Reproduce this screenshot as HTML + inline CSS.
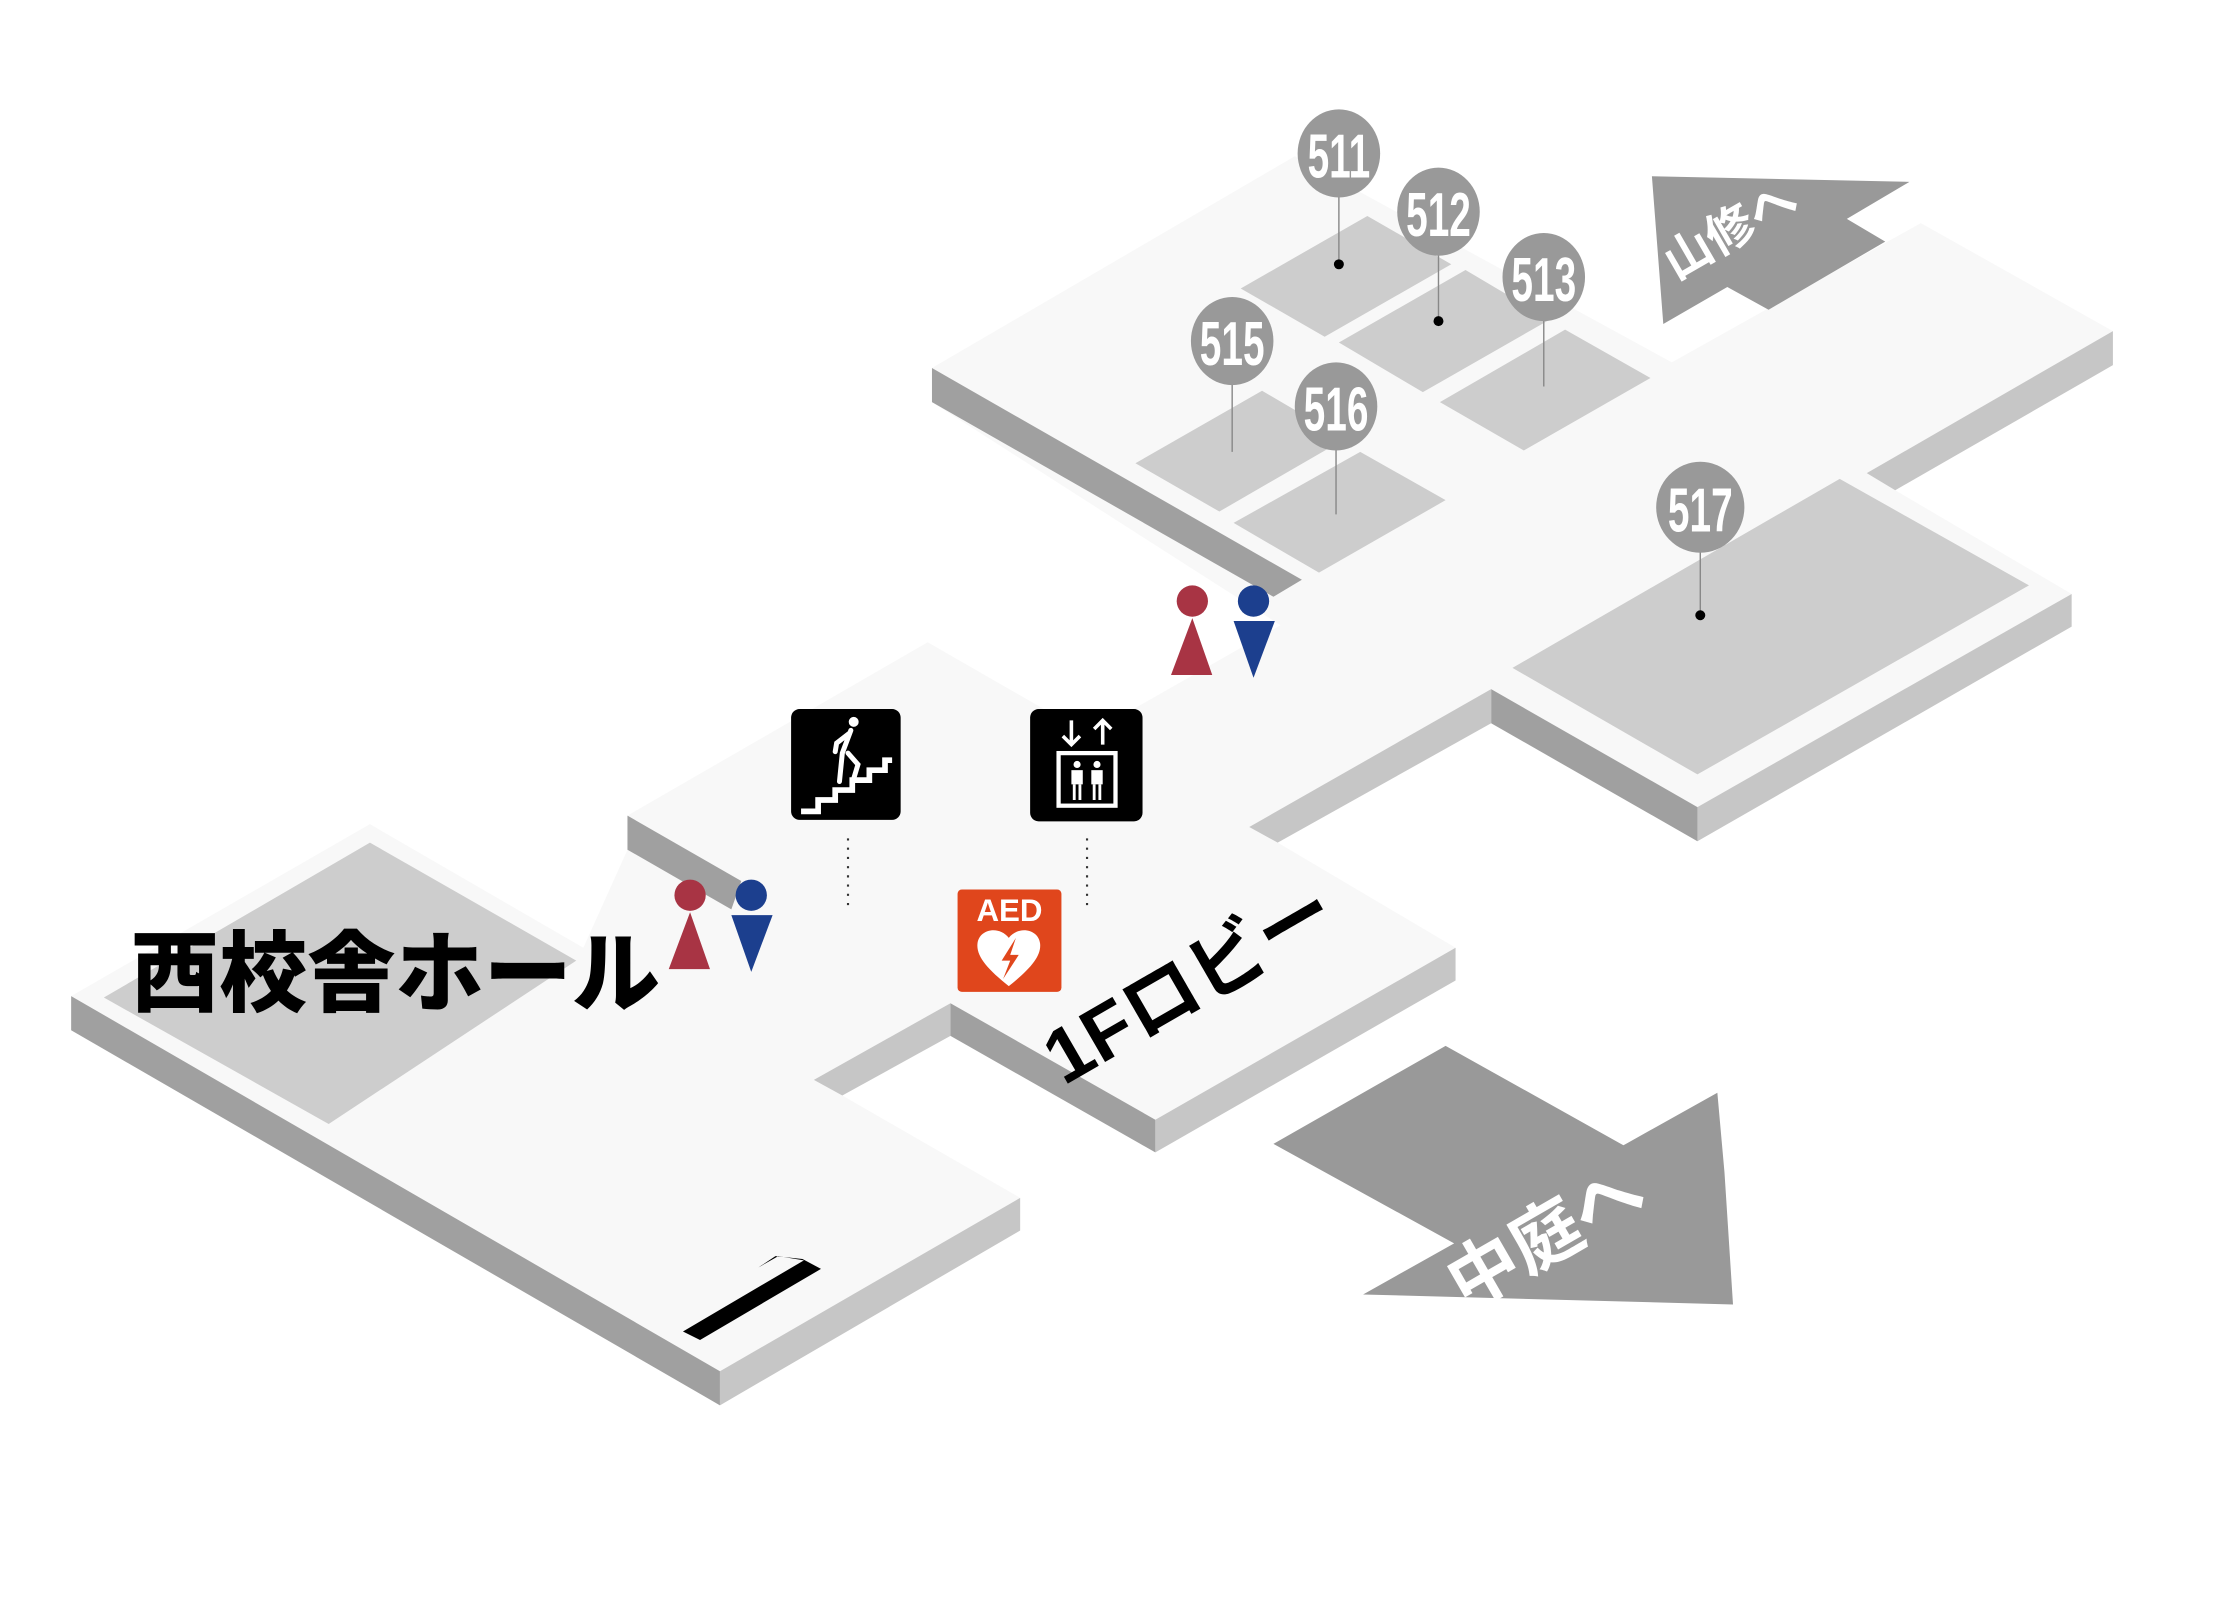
<!DOCTYPE html>
<html><head><meta charset="utf-8"><style>html,body{margin:0;padding:0;background:#fff;width:2231px;height:1600px;overflow:hidden;}svg{display:block}</style></head>
<body>
<svg width="2231" height="1600" viewBox="0 0 1568 1126" preserveAspectRatio="none" xmlns="http://www.w3.org/2000/svg">
<rect width="1568" height="1126" fill="#fff"/>
<!-- floor -->
<polygon fill="#f8f8f8" points="50,701 260,580 410,667 441,598 441,574 652,452 765,517 900,440 655,283 655,259 910,110 1175,255 1350,157 1485,233 1312,333 1332,345 1456,418 1193,568 1048,485 878,582 898,593 1023,667 812,788 668,706 572,760 592,771 717,843 506,965"/>
<!-- side faces -->
<polygon fill="#a0a0a0" points="655,259 915,408 895,420 655,283"/>
<polygon fill="#c6c6c6" points="1485,233 1485,257 1332,345 1312,333"/>
<polygon fill="#c6c6c6" points="1456,418 1456,441 1193,592 1193,568"/>
<polygon fill="#a0a0a0" points="1048,485 1193,568 1193,592 1048,509"/>
<polygon fill="#c6c6c6" points="878,582 1048,485 1048,509 898,593"/>
<polygon fill="#c6c6c6" points="1023,667 1023,690 812,811 812,788"/>
<polygon fill="#a0a0a0" points="668,706 812,788 812,811 668,729"/>
<polygon fill="#c6c6c6" points="572,760 668,706 668,729 592,771"/>
<polygon fill="#c6c6c6" points="717,843 717,866 506,989 506,965"/>
<polygon fill="#a0a0a0" points="50,701 506,965 506,989 50,725"/>
<polygon fill="#a0a0a0" points="441,574 521,620 514,640 441,598"/>
<!-- rooms -->
<polygon fill="#cdcdcd" points="73,702 260,593 405,676 231,791"/>
<polygon fill="#cdcdcd" points="872,203 961,152 1020,186 931,237"/>
<polygon fill="#cdcdcd" points="941,241 1030,190 1089,225 1000,276"/>
<polygon fill="#cdcdcd" points="1012,283 1100,232 1160,266 1071,317"/>
<polygon fill="#cdcdcd" points="798,326 887,275 945,309 857,360"/>
<polygon fill="#cdcdcd" points="867,368 956,318 1016,352 927,403"/>
<polygon fill="#cdcdcd" points="1063,470 1293,337 1426,412 1193,545"/>
<!-- arrows -->
<polygon fill="#999" points="1161,124 1342,128 1298,154 1325,170 1243,218 1214,202 1169,228"/>
<text x="1222" y="172" transform="rotate(-30 1222 172)" font-family="'Liberation Sans','Noto Sans CJK JP',sans-serif" font-weight="bold" font-size="34" fill="#fff" text-anchor="middle">山修へ</text>
<polygon fill="#999" points="1016,736 1141,806 1207,769 1212,825 1218,918 958,911 1022,875 895,805"/>
<text x="1095" y="885" transform="rotate(-30 1095 885)" font-family="'Liberation Sans','Noto Sans CJK JP',sans-serif" font-weight="bold" font-size="50" fill="#fff" text-anchor="middle">中庭へ</text>
<!-- pins -->
<g stroke="#888" stroke-width="1">
<line x1="941" y1="130" x2="941" y2="186"/><line x1="1011" y1="170" x2="1011" y2="226"/>
<line x1="1085" y1="218" x2="1085" y2="272"/><line x1="866" y1="262" x2="866" y2="318"/>
<line x1="939" y1="308" x2="939" y2="362"/><line x1="1195" y1="380" x2="1195" y2="433"/>
</g>
<g fill="#000"><circle cx="941" cy="186" r="3.5"/><circle cx="1011" cy="226" r="3.5"/><circle cx="1195" cy="433" r="3.5"/></g>
<g fill="#999">
<ellipse cx="941" cy="108" rx="29" ry="31"/><ellipse cx="1011" cy="149" rx="29" ry="31"/>
<ellipse cx="1085" cy="195" rx="29" ry="31"/><ellipse cx="866" cy="240" rx="29" ry="31"/>
<ellipse cx="939" cy="286" rx="29" ry="31"/><ellipse cx="1195" cy="357" rx="31" ry="32"/>
</g>
<g font-family="'Liberation Sans',sans-serif" font-weight="bold" font-size="44" fill="#fff" text-anchor="middle">
<text transform="translate(941,125) scale(0.62,1)">511</text>
<text transform="translate(1011,166) scale(0.62,1)">512</text>
<text transform="translate(1085,212) scale(0.62,1)">513</text>
<text transform="translate(866,257) scale(0.62,1)">515</text>
<text transform="translate(939,303) scale(0.62,1)">516</text>
<text transform="translate(1195,374) scale(0.62,1)">517</text>
</g>
<!-- hall label -->
<text x="92" y="707" font-family="'Liberation Sans','Noto Sans CJK JP',sans-serif" font-weight="900" font-size="62" fill="#000">西校舎ホール</text>
<!-- 1F lobby label -->
<text x="845" y="708" transform="rotate(-30 845 708)" font-family="'Liberation Sans','Noto Sans CJK JP',sans-serif" font-weight="bold" font-size="54" fill="#000" text-anchor="middle">1Fロビー</text>
<!-- "1" mark -->
<polygon fill="#000" points="480,937 565,887 547,884 533,892 545,884 564,886 577,893 492,943"/>
<!-- stairs icon -->
<rect x="556" y="499" width="77" height="78" rx="6" fill="#000"/>
<polyline points="563,571 575,571 575,563 587,563 587,556 599,556 599,549 611,549 611,542 622,542 622,535 627,535" fill="none" stroke="#fff" stroke-width="4"/>
<circle cx="600" cy="508" r="3.5" fill="#fff"/>
<path d="M598,514 L592,530 L590,550 M596,530 L603,538 L600,548 M597,516 L588,523 L587,529" stroke="#fff" stroke-width="3.5" fill="none" stroke-linecap="round"/>
<!-- elevator icon -->
<rect x="724" y="499" width="79" height="79" rx="6" fill="#000"/>
<rect x="744" y="530" width="40" height="37" fill="none" stroke="#fff" stroke-width="3"/>
<path d="M753,507 L753,524 M747,518 L753,524 L759,518 M775,524 L775,507 M769,513 L775,507 L781,513" stroke="#fff" stroke-width="2.5" fill="none"/>
<g fill="#fff"><circle cx="757" cy="538" r="2.5"/><circle cx="771" cy="538" r="2.5"/>
<rect x="753" y="542" width="8" height="10"/><rect x="767" y="542" width="8" height="10"/>
<rect x="754" y="552" width="2" height="11"/><rect x="758" y="552" width="2" height="11"/>
<rect x="768" y="552" width="2" height="11"/><rect x="772" y="552" width="2" height="11"/></g>
<!-- dotted lines -->
<line x1="596" y1="590" x2="596" y2="640" stroke="#333" stroke-width="1.5" stroke-dasharray="1.5,5"/>
<line x1="764" y1="590" x2="764" y2="640" stroke="#333" stroke-width="1.5" stroke-dasharray="1.5,5"/>
<!-- AED -->
<rect x="673" y="626" width="73" height="72" rx="3" fill="#e0461c"/>
<text x="709.5" y="648" font-family="'Liberation Sans',sans-serif" font-weight="bold" font-size="22" fill="#fff" text-anchor="middle">AED</text>
<path d="M709,694 C694,682 686,673 687,664 C688,654 702,651 709,660 C716,651 730,654 731,664 C732,673 724,682 709,694 Z" fill="#fff"/>
<path d="M714,660 L704,676 L710,676 L705,689 L716,672 L710,672 Z" fill="#e0461c"/>
<!-- toilets -->
<g fill="#a83444"><circle cx="485" cy="630" r="11"/><polygon points="485,642 499,682 470,682"/>
<circle cx="838" cy="423" r="11"/><polygon points="838,435 852,475 823,475"/></g>
<g fill="#1c3f8e"><circle cx="528" cy="630" r="11"/><polygon points="514,644 543,644 528,684"/>
<circle cx="881" cy="423" r="11"/><polygon points="867,437 896,437 881,477"/></g>
</svg>
</body></html>
